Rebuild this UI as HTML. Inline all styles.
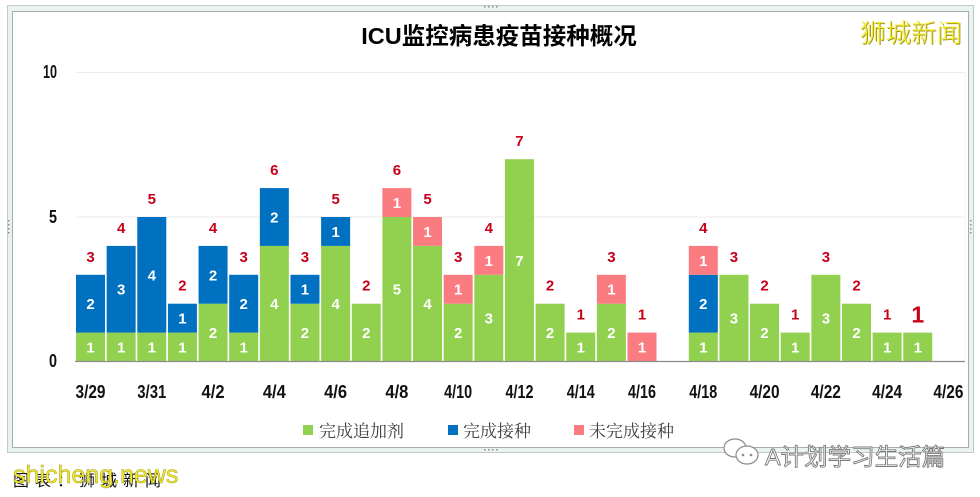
<!DOCTYPE html>
<html><head><meta charset="utf-8"><style>
html,body{margin:0;padding:0;background:#fff;}
svg{display:block;}
.n{font-family:"Liberation Sans",sans-serif;font-weight:bold;}
.t{fill:#c8001a;font-size:15px;text-anchor:middle;}
.w{fill:#fff;font-size:15px;text-anchor:middle;}
.x{fill:#111;font-size:18px;text-anchor:middle;}
.y{fill:#111;font-size:18px;text-anchor:end;}
.lg{font-family:"Liberation Serif","Noto Serif CJK SC",serif;font-size:17px;fill:#404040;}
</style></head><body>
<svg width="980" height="497" viewBox="0 0 980 497" xmlns="http://www.w3.org/2000/svg">
<rect x="0" y="0" width="980" height="497" fill="#fff"/>
<!-- frame -->
<rect x="7.5" y="5.5" width="966" height="447" fill="#e9f3f0" stroke="#c3cac7" stroke-width="1"/>
<rect x="12.5" y="11.5" width="956" height="436" fill="#fff" stroke="#a6aeaa" stroke-width="1"/>
<g fill="#8a8f8d">
<rect x="8" y="220" width="1.5" height="1.5"/><rect x="8" y="224" width="1.5" height="1.5"/><rect x="8" y="228" width="1.5" height="1.5"/><rect x="8" y="232" width="1.5" height="1.5"/>
<rect x="970" y="220" width="1.5" height="1.5"/><rect x="970" y="224" width="1.5" height="1.5"/><rect x="970" y="228" width="1.5" height="1.5"/><rect x="970" y="232" width="1.5" height="1.5"/>
<rect x="484" y="6" width="1.5" height="1.5"/><rect x="488" y="6" width="1.5" height="1.5"/><rect x="492" y="6" width="1.5" height="1.5"/><rect x="496" y="6" width="1.5" height="1.5"/>
<rect x="484" y="449" width="1.5" height="1.5"/><rect x="488" y="449" width="1.5" height="1.5"/><rect x="492" y="449" width="1.5" height="1.5"/><rect x="496" y="449" width="1.5" height="1.5"/>
</g>
<!-- title -->
<text x="499" y="44" text-anchor="middle" font-family="Liberation Sans, Noto Sans CJK SC, sans-serif" font-weight="bold" font-size="23.5" fill="#000">ICU监控病患疫苗接种概况</text>
<text x="861" y="43" font-family="Noto Sans CJK SC, sans-serif" font-weight="300" font-size="25.5" fill="#a39520">狮城新闻</text>
<text x="860" y="42" font-family="Noto Sans CJK SC, sans-serif" font-weight="300" font-size="25.5" fill="#f4ef2e">狮城新闻</text>
<!-- grid -->
<line x1="76" y1="72.5" x2="965" y2="72.5" stroke="#ebebeb" stroke-width="1"/>
<line x1="76" y1="217" x2="965" y2="217" stroke="#ebebeb" stroke-width="1"/>
<line x1="965" y1="72" x2="965" y2="361" stroke="#f3f3f3" stroke-width="1"/>
<!-- y labels -->
<text class="n y" x="57" y="78" textLength="14" lengthAdjust="spacingAndGlyphs">10</text>
<text class="n y" x="57" y="223" textLength="8" lengthAdjust="spacingAndGlyphs">5</text>
<text class="n y" x="57" y="367" textLength="8" lengthAdjust="spacingAndGlyphs">0</text>
<!-- green -->
<g fill="#92d050">
<rect x="76" y="332.6" width="29" height="28.9"/>
<rect x="106.64" y="332.6" width="29" height="28.9"/>
<rect x="137.28" y="332.6" width="29" height="28.9"/>
<rect x="167.92" y="332.6" width="29" height="28.9"/>
<rect x="198.56" y="303.7" width="29" height="57.8"/>
<rect x="229.2" y="332.6" width="29" height="28.9"/>
<rect x="259.84" y="245.9" width="29" height="115.6"/>
<rect x="290.48" y="303.7" width="29" height="57.8"/>
<rect x="321.12" y="245.9" width="29" height="115.6"/>
<rect x="351.76" y="303.7" width="29" height="57.8"/>
<rect x="382.4" y="217" width="29" height="144.5"/>
<rect x="413.04" y="245.9" width="29" height="115.6"/>
<rect x="443.68" y="303.7" width="29" height="57.8"/>
<rect x="474.32" y="274.8" width="29" height="86.7"/>
<rect x="504.96" y="159.2" width="29" height="202.3"/>
<rect x="535.6" y="303.7" width="29" height="57.8"/>
<rect x="566.24" y="332.6" width="29" height="28.9"/>
<rect x="596.88" y="303.7" width="29" height="57.8"/>
<rect x="688.8" y="332.6" width="29" height="28.9"/>
<rect x="719.44" y="274.8" width="29" height="86.7"/>
<rect x="750.08" y="303.7" width="29" height="57.8"/>
<rect x="780.72" y="332.6" width="29" height="28.9"/>
<rect x="811.36" y="274.8" width="29" height="86.7"/>
<rect x="842" y="303.7" width="29" height="57.8"/>
<rect x="872.64" y="332.6" width="29" height="28.9"/>
<rect x="903.28" y="332.6" width="29" height="28.9"/>
</g>
<!-- blue -->
<g fill="#0070c0">
<rect x="76" y="274.8" width="29" height="57.8"/>
<rect x="106.64" y="245.9" width="29" height="86.7"/>
<rect x="137.28" y="217" width="29" height="115.6"/>
<rect x="167.92" y="303.7" width="29" height="28.9"/>
<rect x="198.56" y="245.9" width="29" height="57.8"/>
<rect x="229.2" y="274.8" width="29" height="57.8"/>
<rect x="259.84" y="188.1" width="29" height="57.8"/>
<rect x="290.48" y="274.8" width="29" height="28.9"/>
<rect x="321.12" y="217" width="29" height="28.9"/>
<rect x="688.8" y="274.8" width="29" height="57.8"/>
</g>
<!-- pink -->
<g fill="#fa7c80">
<rect x="382.4" y="188.1" width="29" height="28.9"/>
<rect x="413.04" y="217" width="29" height="28.9"/>
<rect x="443.68" y="274.8" width="29" height="28.9"/>
<rect x="474.32" y="245.9" width="29" height="28.9"/>
<rect x="596.88" y="274.8" width="29" height="28.9"/>
<rect x="627.52" y="332.6" width="29" height="28.9"/>
<rect x="688.8" y="245.9" width="29" height="28.9"/>
</g>
<!-- axis -->
<line x1="75" y1="361.5" x2="965" y2="361.5" stroke="#8c8c8c" stroke-width="1.2"/>
<!-- inner labels -->
<g class="n w">
<text x="90.5" y="352.5">1</text><text x="90.5" y="309.2">2</text>
<text x="121.14" y="352.5">1</text><text x="121.14" y="294.7">3</text>
<text x="151.78" y="352.5">1</text><text x="151.78" y="280.3">4</text>
<text x="182.42" y="352.5">1</text><text x="182.42" y="323.6">1</text>
<text x="213.06" y="338">2</text><text x="213.06" y="280.3">2</text>
<text x="243.7" y="352.5">1</text><text x="243.7" y="309.2">2</text>
<text x="274.34" y="309.2">4</text><text x="274.34" y="222.4">2</text>
<text x="304.98" y="338">2</text><text x="304.98" y="294.7">1</text>
<text x="335.62" y="309.2">4</text><text x="335.62" y="237">1</text>
<text x="366.26" y="338">2</text>
<text x="396.9" y="294.7">5</text><text x="396.9" y="208">1</text>
<text x="427.54" y="309.2">4</text><text x="427.54" y="237">1</text>
<text x="458.18" y="338">2</text><text x="458.18" y="294.7">1</text>
<text x="488.82" y="323.6">3</text><text x="488.82" y="265.8">1</text>
<text x="519.46" y="265.8">7</text>
<text x="550.1" y="338">2</text>
<text x="580.74" y="352.5">1</text>
<text x="611.38" y="338">2</text><text x="611.38" y="294.7">1</text>
<text x="642.02" y="352.5">1</text>
<text x="703.3" y="352.5">1</text><text x="703.3" y="309.2">2</text><text x="703.3" y="265.8">1</text>
<text x="733.94" y="323.6">3</text>
<text x="764.58" y="338">2</text>
<text x="795.22" y="352.5">1</text>
<text x="825.86" y="323.6">3</text>
<text x="856.5" y="338">2</text>
<text x="887.14" y="352.5">1</text>
<text x="917.78" y="352.5">1</text>
</g>
<!-- totals -->
<g class="n t">
<text x="90.5" y="261.8">3</text>
<text x="121.14" y="232.9">4</text>
<text x="151.78" y="204">5</text>
<text x="182.42" y="290.7">2</text>
<text x="213.06" y="232.9">4</text>
<text x="243.7" y="261.8">3</text>
<text x="274.34" y="175.1">6</text>
<text x="304.98" y="261.8">3</text>
<text x="335.62" y="204">5</text>
<text x="366.26" y="290.7">2</text>
<text x="396.9" y="175.1">6</text>
<text x="427.54" y="204">5</text>
<text x="458.18" y="261.8">3</text>
<text x="488.82" y="232.9">4</text>
<text x="519.46" y="146.2">7</text>
<text x="550.1" y="290.7">2</text>
<text x="580.74" y="319.6">1</text>
<text x="611.38" y="261.8">3</text>
<text x="642.02" y="319.6">1</text>
<text x="703.3" y="232.9">4</text>
<text x="733.94" y="261.8">3</text>
<text x="764.58" y="290.7">2</text>
<text x="795.22" y="319.6">1</text>
<text x="825.86" y="261.8">3</text>
<text x="856.5" y="290.7">2</text>
<text x="887.14" y="319.6">1</text>
<text x="917.78" y="322.5" style="font-size:23px">1</text>
</g>
<!-- x labels -->
<g class="n x" lengthAdjust="spacingAndGlyphs">
<text x="90.5" y="398" textLength="30" lengthAdjust="spacingAndGlyphs">3/29</text>
<text x="151.78" y="398" textLength="29" lengthAdjust="spacingAndGlyphs">3/31</text>
<text x="213.06" y="398" textLength="23" lengthAdjust="spacingAndGlyphs">4/2</text>
<text x="274.34" y="398" textLength="23" lengthAdjust="spacingAndGlyphs">4/4</text>
<text x="335.62" y="398" textLength="23" lengthAdjust="spacingAndGlyphs">4/6</text>
<text x="396.9" y="398" textLength="23" lengthAdjust="spacingAndGlyphs">4/8</text>
<text x="458.18" y="398" textLength="28" lengthAdjust="spacingAndGlyphs">4/10</text>
<text x="519.46" y="398" textLength="28" lengthAdjust="spacingAndGlyphs">4/12</text>
<text x="580.74" y="398" textLength="28" lengthAdjust="spacingAndGlyphs">4/14</text>
<text x="642.02" y="398" textLength="28" lengthAdjust="spacingAndGlyphs">4/16</text>
<text x="703.3" y="398" textLength="28" lengthAdjust="spacingAndGlyphs">4/18</text>
<text x="764.58" y="398" textLength="30" lengthAdjust="spacingAndGlyphs">4/20</text>
<text x="825.86" y="398" textLength="30" lengthAdjust="spacingAndGlyphs">4/22</text>
<text x="887.14" y="398" textLength="30" lengthAdjust="spacingAndGlyphs">4/24</text>
<text x="948.42" y="398" textLength="30" lengthAdjust="spacingAndGlyphs">4/26</text>
</g>
<!-- legend -->
<rect x="303" y="425" width="10" height="10" fill="#92d050"/>
<text class="lg" x="319" y="437">完成追加剂</text>
<rect x="448" y="425" width="10" height="10" fill="#0070c0"/>
<text class="lg" x="463" y="437">完成接种</text>
<rect x="574" y="425" width="10" height="10" fill="#fa7c80"/>
<text class="lg" x="589" y="437">未完成接种</text>
<!-- bottom watermarks -->
<text x="13" y="486" font-family="Liberation Sans, Noto Sans CJK SC, sans-serif" font-size="16" fill="#111" letter-spacing="6">图表：狮城新闻</text>
<text x="13" y="483" font-family="Liberation Sans, sans-serif" font-size="25" fill="#efe92c" stroke="#a89c1c" stroke-width="0.5">shicheng.news</text>
<g fill="#fff" stroke="#8a8a8a" stroke-width="1.2">
<ellipse cx="735" cy="448" rx="11" ry="9"/>
<ellipse cx="747" cy="455" rx="11" ry="9"/>
</g>
<g fill="#8a8a8a"><circle cx="743" cy="455" r="1.3"/><circle cx="751" cy="455" r="1.3"/></g>
<text x="765" y="465" font-family="Liberation Sans, Noto Sans CJK SC, sans-serif" font-size="23.5" fill="#fff" stroke="#7a7a7a" stroke-width="0.9">A计划学习生活篇</text>
</svg>
</body></html>
